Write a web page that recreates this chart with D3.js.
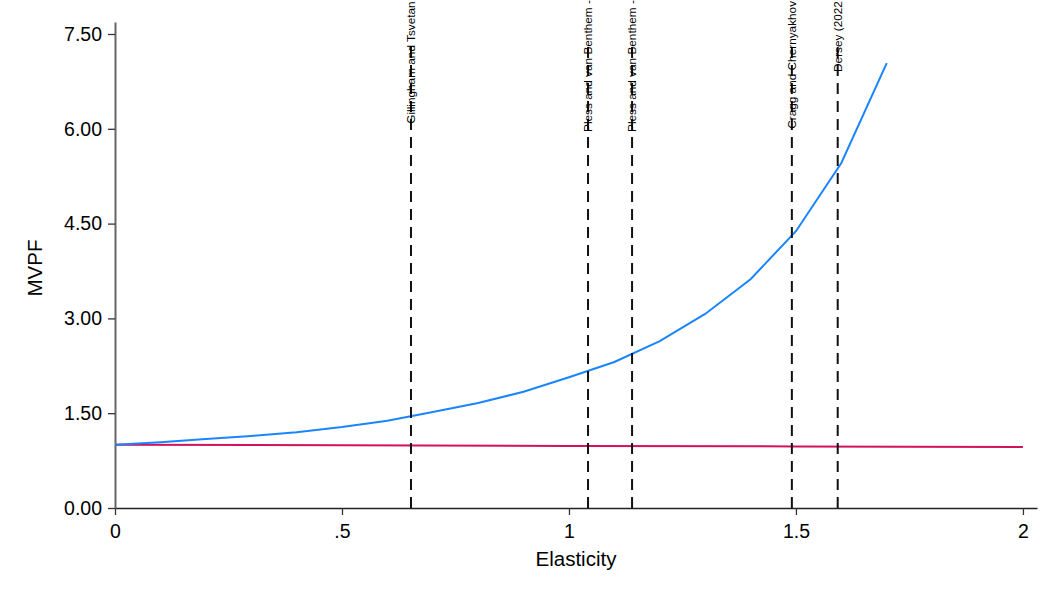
<!DOCTYPE html>
<html>
<head>
<meta charset="utf-8">
<script src="https://cdn.jsdelivr.net/npm/d3@7"></script>
<style>
  body { margin: 0; background: #fff; }
  svg { font-family: "Liberation Sans", Arial, sans-serif; }
</style>
</head>
<body>
<svg width="1059" height="595"></svg>
<script>
// elasticity grid
var elasticity = [0, 0.1, 0.2, 0.3, 0.4, 0.5, 0.6, 0.7, 0.8, 0.9, 1.0, 1.1, 1.2, 1.3, 1.4, 1.5, 1.6, 1.7];
var mvpfBlue = [1.00, 1.04, 1.09, 1.14, 1.20, 1.28, 1.38, 1.52, 1.66, 1.84, 2.07, 2.31, 2.64, 3.07, 3.62, 4.38, 5.46, 7.04];

var elasticityRed = [0, 0.5, 1.0, 1.5, 2.0];
var mvpfRed = [1.00, 0.992, 0.983, 0.974, 0.965];

// study estimates (vertical lines)
var studyNames = ["Gillingham and Tsvetan", "Pless and van Benthem -", "Pless and van Benthem -", "Cragg and Chernyakhov", "Dersey (2022"];
var studyElast = [0.652, 1.042, 1.139, 1.491, 1.592];
var labelY = [6.08, 5.95, 5.95, 6.0, 6.9];

var yTicks = [0, 1.5, 3, 4.5, 6, 7.5];
var xTicks = [0, 0.5, 1, 1.5, 2];

var svg = d3.select("svg");

var x = d3.scaleLinear().domain([0, 2.031]).range([115, 1037]);
var y = d3.scaleLinear().domain([0, 7.69]).range([508, 22]);

// x axis
var xAxis = svg.append("g")
    .attr("transform", "translate(0,508)")
    .call(d3.axisBottom(x).tickValues(xTicks).tickSize(7).tickSizeOuter(0).tickPadding(9)
        .tickFormat(function(d) { return d == 0 ? "0" : (d < 1 ? d3.format(".1f")(d).replace(/^0/, "") : String(d)); }));
xAxis.select(".domain").attr("stroke", "#222").attr("stroke-width", 1.5);
xAxis.selectAll(".tick line").attr("stroke", "#333").attr("stroke-width", 1.3);
xAxis.selectAll("text").attr("font-size", 19.5).attr("fill", "#000");

// y axis
var yAxis = svg.append("g")
    .attr("transform", "translate(115,0)")
    .call(d3.axisLeft(y).tickValues(yTicks).tickSize(7).tickSizeOuter(0).tickPadding(6).tickFormat(d3.format(".2f")));
yAxis.select(".domain").attr("stroke", "#666").attr("stroke-width", 2);
yAxis.selectAll(".tick line").attr("stroke", "#333").attr("stroke-width", 1.3);
yAxis.selectAll("text").attr("font-size", 19.5).attr("fill", "#000");

// axis titles
svg.append("text")
    .attr("x", 576).attr("y", 566)
    .attr("text-anchor", "middle")
    .attr("font-size", 20.5)
    .text("Elasticity");
svg.append("text")
    .attr("transform", "translate(42,268) rotate(-90)")
    .attr("text-anchor", "middle")
    .attr("font-size", 20.5)
    .text("MVPF");

// lines
var line = d3.line().x(function(d) { return x(d[0]); }).y(function(d) { return y(d[1]); });

svg.append("path")
    .datum(d3.zip(elasticityRed, mvpfRed))
    .attr("d", line)
    .attr("fill", "none")
    .attr("stroke", "#d41159")
    .attr("stroke-width", 2);

svg.append("path")
    .datum(d3.zip(elasticity, mvpfBlue))
    .attr("d", line)
    .attr("fill", "none")
    .attr("stroke", "#1a85ff")
    .attr("stroke-width", 2);

// vertical study lines
var studies = svg.append("g")
    .selectAll("g")
    .data(d3.zip(studyNames, studyElast, labelY))
    .enter()
    .append("g");

studies.append("line")
    .attr("x1", function(d) { return x(d[1]); })
    .attr("x2", function(d) { return x(d[1]); })
    .attr("y1", y(0))
    .attr("y2", y(7.4))
    .attr("stroke", "#111")
    .attr("stroke-width", 2)
    .attr("stroke-dasharray", "11,7");

studies.append("text")
    .attr("transform", function(d) { return "translate(" + x(d[1]) + "," + y(d[2]) + ") rotate(-90)"; })
    .attr("dy", "0.35em")
    .attr("font-size", 11.8)
    .attr("fill", "#000")
    .text(function(d) { return d[0]; });
</script>
</body>
</html>
